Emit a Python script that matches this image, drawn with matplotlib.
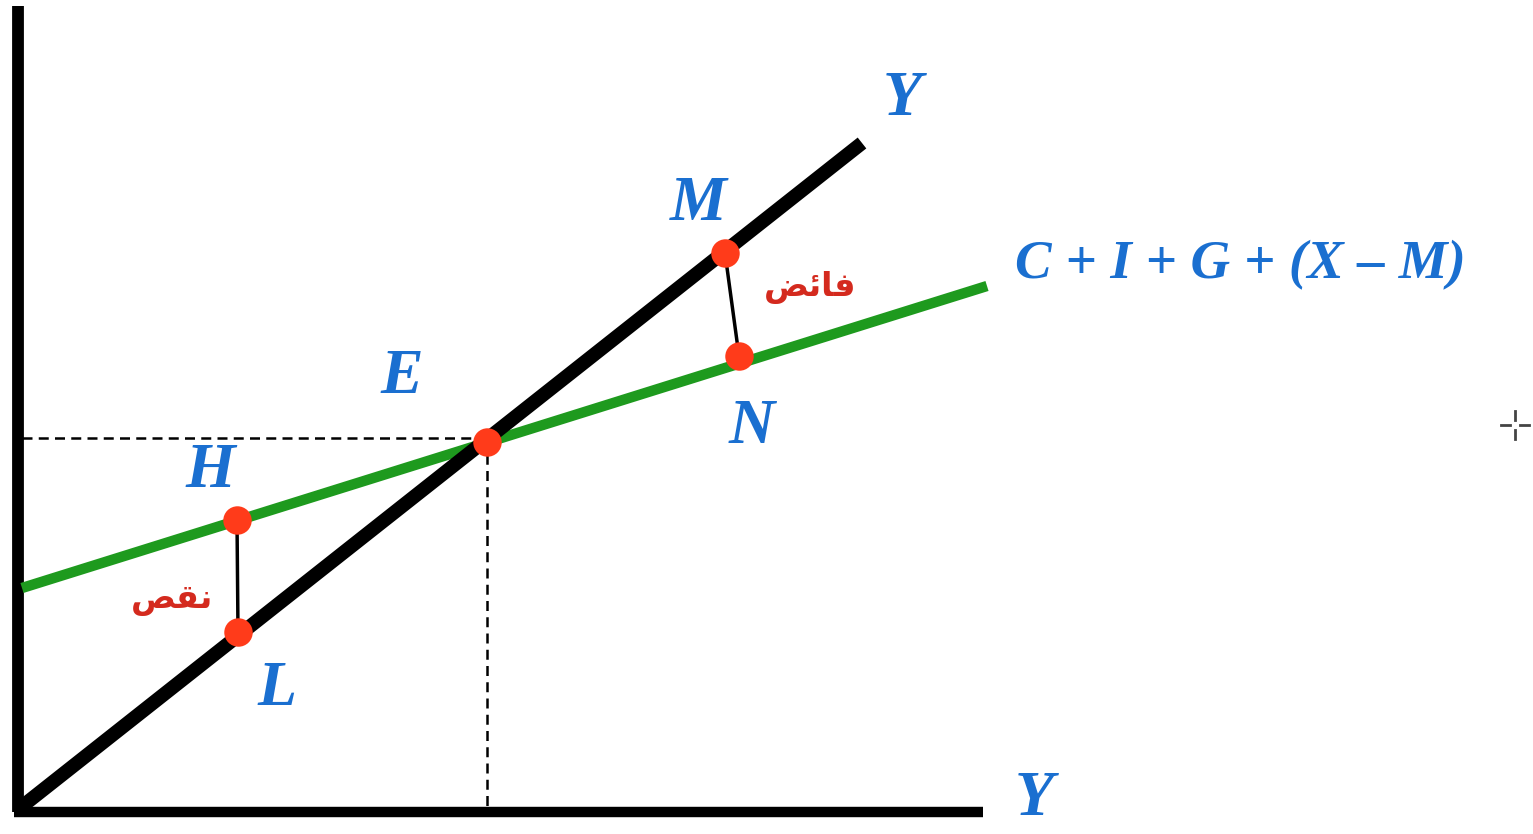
import matplotlib.pyplot as plt

# diagram data (units: origin at the axes corner)
y45_x = [0, 842]
y45_y = [0, 665]
ae_x = [2, 967]
ae_y = [220, 522]

pts_names = ['E', 'M', 'N', 'H', 'L']
pts_x = [467, 705, 719, 217, 218]
pts_y = [366, 555, 452, 288, 176]

eq_x = 467
eq_y = 370

axis_top = 802
axis_right = 963

blue = '#1a6fd0'
red_txt = '#d42a1e'
dot = '#ff3b1a'
green = '#1e9a1e'

fig = plt.figure(figsize=(15.33, 8.34), dpi=100)
ax = fig.add_axes([0, 0, 1, 1])
ax.set_xlim(-20, 1513)
ax.set_ylim(-26, 808)
ax.axis('off')

# axes
ax.plot([-2, -2], [-4, axis_top], color='black', lw=8.5, solid_capstyle='butt')
ax.plot([-6, axis_right], [-4, -4], color='black', lw=7.5, solid_capstyle='butt')

# dashed guides to E
ax.plot([2, eq_x], [eq_y, eq_y], color='black', lw=1.8, ls=(0, (4, 2.5)))
ax.plot([eq_x, eq_x], [eq_y, -4], color='black', lw=1.8, ls=(0, (4, 2.5)))

# lines
ax.plot(ae_x, ae_y, color=green, lw=7.5, solid_capstyle='butt', zorder=3)
ax.plot(y45_x, y45_y, color='black', lw=10, solid_capstyle='butt', zorder=4)

# gaps
d = dict(zip(pts_names, zip(pts_x, pts_y)))
for a, b in [('M', 'N'), ('H', 'L')]:
    ax.plot([d[a][0], d[b][0]], [d[a][1], d[b][1]], color='black', lw=2.5, zorder=5)

ax.scatter(pts_x, pts_y, s=420, color=dot, zorder=6, linewidths=0)

lab = dict(color=blue, fontsize=46, fontweight='bold', fontstyle='italic',
           family=['Liberation Serif', 'DejaVu Serif'], ha='center', va='center')
ax.text(882, 708, 'Y', **lab)
ax.text(678, 603, 'M', **lab)
ax.text(382, 430, 'E', **lab)
ax.text(732, 380, 'N', **lab)
ax.text(190, 336, 'H', **lab)
ax.text(257, 118, 'L', **lab)
ax.text(995, 8, 'Y', **{**lab, 'ha': 'left'})
ax.text(995, 543, 'C + I + G + (X – M)', **{**lab, 'ha': 'left', 'fontsize': 39.5})

# Arabic words in presentation forms, visual order
ar = dict(color=red_txt, fontsize=24, fontweight='bold', family=['DejaVu Sans'],
          ha='center', va='center')
ax.text(810 - 20, 521, '\uFEBE\uFE8B\uFE8E\uFED3', **ar)
ax.text(152, 208, '\uFEBA\uFED8\uFEE7', **ar)

# small cross mark at right
cx, cy = 1495, 383
for dx0, dx1, dy0, dy1 in [(-14, -5, 0, 0), (5, 14, 0, 0), (0, 0, 5, 14), (0, 0, -14, -5)]:
    ax.plot([cx + dx0, cx + dx1], [cy + dy0, cy + dy1], color='#444444', lw=2)

fig.savefig('out.png', dpi=100)
